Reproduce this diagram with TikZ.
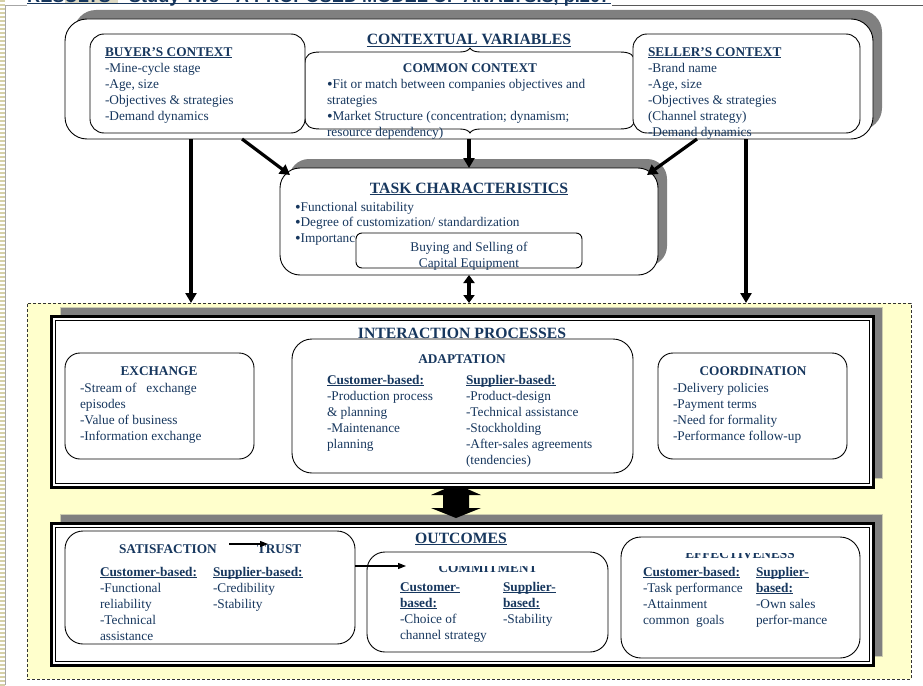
\documentclass[tikz,border=0pt]{standalone}
\usepackage{fontspec}
\setmainfont{Liberation Serif}
\newfontfamily\headfont{Liberation Sans}
\usetikzlibrary{arrows.meta,shadows}
\definecolor{navy}{RGB}{23,55,94}
\definecolor{shade}{RGB}{128,128,128}
\definecolor{paleedge}{RGB}{205,205,175}
\definecolor{zonefill}{RGB}{255,255,204}
\definecolor{stripe}{RGB}{214,209,168}
\definecolor{hilite}{RGB}{221,217,195}
% underline at a fixed depth below the baseline
\newcommand\undl[1]{\setbox0=\hbox{#1}\rlap{\rule[-2.2pt]{\wd0}{0.9pt}}\box0}
% slightly heavier list bullet
\newcommand\bul{\raisebox{-1pt}{\fontsize{16}{16}\selectfont•}}

\tikzset{
  body/.style={font=\fontsize{13.3}{16}\selectfont, text=navy, inner sep=0pt, outer sep=0pt},
  blk/.style={body, align=left, anchor=north west},
  hd/.style={body, font=\fontsize{13.3}{16}\selectfont\bfseries, anchor=base},
  bighd/.style={body, font=\fontsize{15.7}{18}\selectfont\bfseries, anchor=base},
  rbox/.style={draw=black, line width=0.9pt, fill=white, rounded corners=#1,
               inner sep=0pt, outer sep=0pt, anchor=north west},
  shadowed/.style={drop shadow={shadow xshift=9pt, shadow yshift=9pt, fill=shade, opacity=1}},
  frame/.style={draw=black, line width=3.3pt, fill=white, inner sep=0pt, outer sep=0pt,
                anchor=north west,
                drop shadow={shadow xshift=9pt, shadow yshift=9pt, fill=shade,
                             draw=paleedge, line width=1.2pt, opacity=1}},
  bigarrow/.style={line width=3.2pt, -{Triangle[length=10pt,width=11pt]}},
  twoway/.style={line width=3.2pt, {Triangle[length=8pt,width=11pt]}-{Triangle[length=8pt,width=11pt]}},
  smallarrow/.style={line width=1.1pt, -{Triangle[length=8pt,width=6pt]}},
}

\begin{document}
\begin{tikzpicture}[x=1pt,y=-1pt]
\useasboundingbox (0,0) rectangle (923,685);
\fill[white] (0,0) rectangle (923,685);

% striped page margin and page frame
\foreach \yy in {0,4,...,684} \fill[stripe] (0,\yy) rectangle (5,\yy+2);
\draw[gray!70, line width=1pt] (5.5,685) -- (5.5,5.5) -- (27,5.5);
\draw[gray!70!black, line width=1pt] (612,5.5) -- (923,5.5);

% heading line
\begin{scope}
\clip (0,0) rectangle (923,685);
\fill[hilite] (65,0) rectangle (118,3);
\node[anchor=base west, inner sep=0pt, text=navy, font=\headfont\bfseries\fontsize{18.2}{22}\selectfont]
  (title) at (27,2.5) {RESULTS\quad Study Two - A PROPOSED MODEL OF ANALYSIS, p.207};
\draw[navy, line width=1.2pt] ([yshift=-1.4pt]title.base west) -- ([yshift=-1.4pt]title.base east);
\end{scope}

% ---------- contextual variables ----------
\node[rbox=22pt, minimum width=808pt, minimum height=120pt, shadowed] (ctx) at (65,19) {};
\node[bighd] (ctxhd) at (469,45) {\undl{CONTEXTUAL VARIABLES}};

% common context (brace-tipped box)
\draw[line width=0.9pt, fill=white]
  (305,63) .. controls (305,55) and (310,52) .. (320,52) -- (460,52)
  .. controls (466,52) and (469,50) .. (470,48)
  .. controls (471,50) and (474,52) .. (480,52) -- (620,52)
  .. controls (630,52) and (635,55) .. (635,63) -- (635,118)
  .. controls (635,126) and (630,129) .. (620,129) -- (480,129)
  .. controls (474,129) and (471,131) .. (470,133)
  .. controls (469,131) and (466,129) .. (460,129) -- (320,129)
  .. controls (310,129) and (305,126) .. (305,118) -- cycle;
\node[hd] (comhd) at (470,73) {COMMON CONTEXT};
\node[blk] (comtxt) at (327,76.8) {\strut\bul Fit or match between companies objectives and\\strategies\\\bul Market Structure (concentration; dynamism;\\resource dependency)};

\node[rbox=14pt, minimum width=215pt, minimum height=99pt] (buyer) at (90,34) {};
\node[blk] (buytxt) at (105,44.8) {\strut\undl{\textbf{BUYER’S CONTEXT}}\\-Mine-cycle stage\\-Age, size\\-Objectives \& strategies\\-Demand dynamics};

\node[rbox=14pt, minimum width=227pt, minimum height=99pt] (seller) at (633,34) {};
\node[blk] (selltxt) at (648,44.8) {\strut\undl{\textbf{SELLER’S CONTEXT}}\\-Brand name\\-Age, size\\-Objectives \& strategies\\(Channel strategy)\\-Demand dynamics};

% ---------- task characteristics ----------
\node[rbox=20pt, minimum width=378pt, minimum height=107pt, shadowed] (task) at (280,168) {};
\node[bighd] (taskhd) at (469,193) {\undl{TASK CHARACTERISTICS}};
\node[blk, font=\fontsize{13.3}{15.5}\selectfont] (tasktxt) at (295,200.15) {\strut\bul Functional suitability\\\bul Degree of customization/ standardization\\\bul Importance};
\node[rbox=6pt, minimum width=226pt, minimum height=35pt] (buy) at (356,233) {};
\node[body, align=center, anchor=north] (buytext) at (469,239.8) {\strut Buying and Selling of\\Capital Equipment};

% ---------- lower zone ----------
\node[draw=black!80, line width=0.8pt, dash pattern=on 3pt off 2pt, fill=zonefill,
      minimum width=884pt, minimum height=376pt, inner sep=0pt, outer sep=0pt,
      anchor=north west] (zone) at (27,303) {};

% connectors from the context and task boxes
\coordinate (xl) at (191,0);
\coordinate (xr) at (746,0);
\coordinate (dl) at (242,0);
\coordinate (dr) at (697,0);
\draw[bigarrow] (ctx.south -| xl) -- (zone.north -| xl);
\draw[bigarrow] (ctx.south -| xr) -- (zone.north -| xr);
\draw[bigarrow] (ctx.south -| dl) -- ([shift={(10,7)}]task.north west);
\draw[bigarrow] (ctx.south -| dr) -- ([shift={(-11,7)}]task.north east);
\draw[bigarrow] (ctx.south -| task.north) -- (task.north);
\draw[twoway] (task.south) -- (task.south |- zone.north);

% outcomes frame
\node[frame, minimum width=821.7pt, minimum height=141.7pt] (outc) at (51.65,523.65) {};
\draw[line width=1.4pt] ([shift={(3.7,3.7)}]outc.north west) rectangle ([shift={(-3.7,-3.7)}]outc.south east);

% block arrow between the two frames
\fill[black] (456,484) -- (481,495) -- (469,495) -- (469,508) -- (481,508) -- (456,518)
  -- (431,508) -- (443,508) -- (443,495) -- (431,495) -- cycle;

% interaction frame
\node[frame, minimum width=821.7pt, minimum height=170.7pt] (inter) at (51.65,316.65) {};
\draw[line width=1.4pt] ([shift={(3.7,3.7)}]inter.north west) rectangle ([shift={(-3.7,-3.7)}]inter.south east);

% ---------- interaction processes ----------
\node[bighd] (interhd) at (462,338) {INTERACTION PROCESSES};

\node[rbox=15pt, minimum width=189pt, minimum height=106pt] (exch) at (65,353) {};
\node[hd] (exchhd) at (159,375) {EXCHANGE};
\node[blk] (exchtxt) at (80,380.8) {\strut-Stream of~~ exchange\\episodes\\-Value of business\\-Information exchange};

\node[rbox=20pt, minimum width=341pt, minimum height=134pt] (adapt) at (292,339) {};
\node[hd] (adapthd) at (462,363) {ADAPTATION};
\node[blk] (adaptc) at (327,372.8) {\strut\undl{\textbf{Customer-based:}}\\-Production process\\\& planning\\-Maintenance\\planning};
\node[blk] (adapts) at (466,372.8) {\strut\undl{\textbf{Supplier-based:}}\\-Product-design\\-Technical assistance\\-Stockholding\\-After-sales agreements\\(tendencies)};

\node[rbox=15pt, minimum width=189pt, minimum height=106pt] (coord) at (658,353) {};
\node[hd] (coordhd) at (753,375) {COORDINATION};
\node[blk] (coordtxt) at (673,380.8) {\strut-Delivery policies\\-Payment terms\\-Need for formality\\-Performance follow-up};

% ---------- outcomes ----------
\node[bighd] (outhd) at (461,543) {\undl{OUTCOMES}};

\node[rbox=18pt, minimum width=290pt, minimum height=113pt] (sat) at (65,531) {};
\node[hd, anchor=base west] (satt) at (119,553) {SATISFACTION};
\node[hd, anchor=base west] (trust) at (257,553) {TRUST};
\coordinate (ta) at (229,544);
\coordinate (tb) at (268,544);
\draw[smallarrow] (ta) -- (tb);
\node[blk] (satc) at (100,564.8) {\strut\undl{\textbf{Customer-based:}}\\-Functional\\reliability\\-Technical\\assistance};
\node[blk] (sats) at (213,564.8) {\strut\undl{\textbf{Supplier-based:}}\\-Credibility\\-Stability};

\node[rbox=18pt, minimum width=241pt, minimum height=100pt] (commit) at (367,552) {};
\begin{scope}
\clip (367,566) rectangle (608,600);
\node[hd] (commithd) at (488,572) {COMMITMENT};
\end{scope}
\node[blk] (commitc) at (400,579.8) {\strut\undl{\textbf{Customer-}}\\\undl{\textbf{based:}}\\-Choice of\\channel strategy};
\node[blk] (commits) at (503,579.8) {\strut\undl{\textbf{Supplier-}}\\\undl{\textbf{based:}}\\-Stability};

\coordinate (ca) at (406,566);
\draw[smallarrow] (sat.east |- ca) -- (ca);

\node[rbox=20pt, minimum width=239pt, minimum height=121pt] (effect) at (621,537) {};
\begin{scope}
\clip (621,553) rectangle (860,600);
\node[hd] (effecthd) at (740,558) {EFFECTIVENESS};
\end{scope}
\node[blk] (effectc) at (643,564.8) {\strut\undl{\textbf{Customer-based:}}\\-Task performance\\-Attainment\\common~ goals};
\node[blk] (effects) at (756,564.8) {\strut\undl{\textbf{Supplier-}}\\\undl{\textbf{based:}}\\-Own sales\\perfor-mance};

\end{tikzpicture}
\end{document}
